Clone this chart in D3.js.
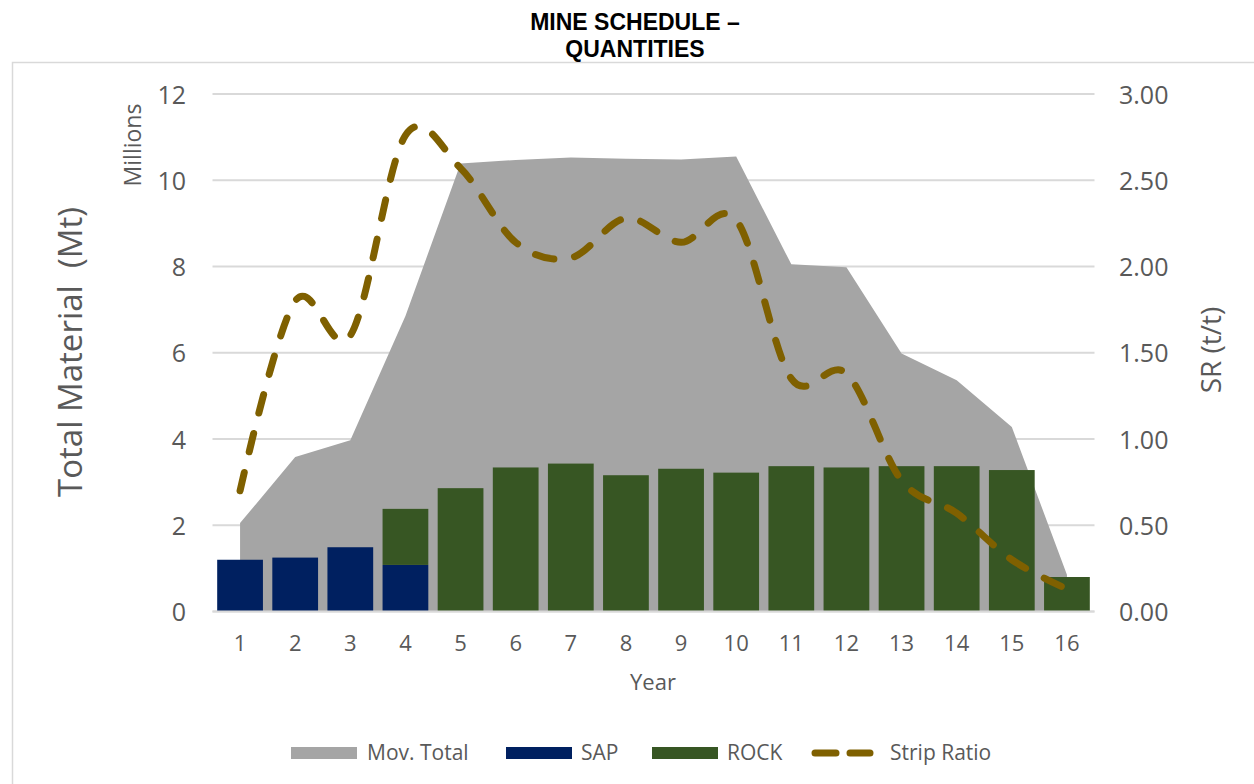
<!DOCTYPE html>
<html>
<head>
<meta charset="utf-8">
<script src="https://cdn.jsdelivr.net/npm/d3@7"></script>
<style>
  html, body { margin: 0; padding: 0; background: #fff; }
  svg { display: block; }
  text { font-family: "Open Sans", "Noto Sans", sans-serif; fill: #595959; }
</style>
</head>
<body>
<svg id="chart" width="1254" height="784"></svg>
<script>
// ---- data ----
const years = ["1","2","3","4","5","6","7","8","9","10","11","12","13","14","15","16"];
const movTotal = [2.05, 3.58, 3.97, 6.85, 10.39, 10.47, 10.53, 10.50, 10.48, 10.55, 8.05, 7.98, 5.98, 5.36, 4.28, 0.85];
const sap = [1.20, 1.25, 1.49, 1.08, 0, 0, 0, 0, 0, 0, 0, 0, 0, 0, 0, 0];
const rock = [0, 0, 0, 1.30, 2.86, 3.34, 3.43, 3.16, 3.31, 3.22, 3.37, 3.34, 3.37, 3.37, 3.28, 0.80];
const stripRatio = [0.70, 1.80, 1.60, 2.76, 2.57, 2.14, 2.05, 2.28, 2.14, 2.27, 1.35, 1.38, 0.76, 0.57, 0.30, 0.13];
const leftTicks = [0, 2, 4, 6, 8, 10, 12];
const rightTicks = [0, 0.5, 1.0, 1.5, 2.0, 2.5, 3.0];
const titleLines = ["MINE SCHEDULE –", "QUANTITIES"];
const legendItems = ["Mov. Total", "SAP", "ROCK", "Strip Ratio"];

const colors = { total: "#a5a5a5", sap: "#002060", rock: "#375623", sr: "#7f6000", grid: "#d9d9d9" };

const svg = d3.select("#chart");
svg.append("rect").attr("width", 1254).attr("height", 784).attr("fill", "#fff");

// chart frame
svg.append("path")
  .attr("d", "M12.5,784 L12.5,62.5 L1254,62.5")
  .attr("fill", "none").attr("stroke", "#d9d9d9").attr("stroke-width", 1.5);

// title
svg.append("g").selectAll("text").data(titleLines).join("text")
  .attr("x", 635).attr("y", (d, i) => 29.5 + i * 27)
  .attr("text-anchor", "middle")
  .style("font-family", "'Liberation Sans', Arial, sans-serif")
  .style("font-weight", "bold").style("font-size", "23px").style("fill", "#000")
  .text(d => d);

// scales
const x = d3.scaleBand().domain(years).range([212.5, 1094.5]).paddingInner(0).paddingOuter(0);
const y = d3.scaleLinear().domain([0, 12]).range([611.5, 94]);
const y2 = d3.scaleLinear().domain([0, 3]).range([611.5, 94]);
const barPad = 0.085;
const cx = d => x(d) + x.bandwidth() / 2;

// gridlines
svg.append("g").selectAll("line").data(leftTicks).join("line")
  .attr("x1", 212.5).attr("x2", 1094.5)
  .attr("y1", d => y(d)).attr("y2", d => y(d))
  .attr("stroke", colors.grid).attr("stroke-width", 1.8);

// area (Mov. Total)
const area = d3.area()
  .x((d, i) => cx(years[i]))
  .y0(y(0)).y1(d => y(d))
  .curve(d3.curveLinear);
svg.append("path").datum(movTotal).attr("d", area).attr("fill", colors.total);

// stacked bars: SAP then ROCK
const bars = svg.append("g");
bars.selectAll("rect.sap").data(years).join("rect").attr("class", "sap")
  .attr("x", d => x(d) + x.bandwidth() * barPad)
  .attr("width", x.bandwidth() * (1 - 2 * barPad))
  .attr("y", (d, i) => y(sap[i]))
  .attr("height", (d, i) => y(0) - y(sap[i]))
  .attr("fill", colors.sap);
bars.selectAll("rect.rock").data(years).join("rect").attr("class", "rock")
  .attr("x", d => x(d) + x.bandwidth() * barPad)
  .attr("width", x.bandwidth() * (1 - 2 * barPad))
  .attr("y", (d, i) => y(sap[i] + rock[i]))
  .attr("height", (d, i) => y(sap[i]) - y(sap[i] + rock[i]))
  .attr("fill", colors.rock);

// zero axis line
svg.append("line").attr("x1", 212.5).attr("x2", 1094.5)
  .attr("y1", y(0)).attr("y2", y(0))
  .attr("stroke", colors.grid).attr("stroke-width", 1.8);

// strip ratio line
const line = d3.line()
  .x((d, i) => cx(years[i]))
  .y(d => y2(d))
  .curve(d3.curveCardinal.tension(0));
svg.append("path").datum(stripRatio).attr("d", line)
  .attr("fill", "none").attr("stroke", colors.sr).attr("stroke-width", 7)
  .attr("stroke-linecap", "round").attr("stroke-dasharray", "19 21");

// left axis
const leftAxis = svg.append("g").attr("transform", "translate(186,0)")
  .call(d3.axisLeft(y).tickValues(leftTicks).tickSize(0).tickPadding(0).tickFormat(d3.format("d")));
leftAxis.select(".domain").remove();
leftAxis.selectAll("text").style("font-size", "25px").attr("dy", "0.36em").style("fill", "#595959")
  .style("font-family", "'Open Sans', sans-serif");

// right axis
const rightAxis = svg.append("g").attr("transform", "translate(1119,0)")
  .call(d3.axisRight(y2).tickValues(rightTicks).tickSize(0).tickPadding(0).tickFormat(d3.format(".2f")));
rightAxis.select(".domain").remove();
rightAxis.selectAll("text").style("font-size", "25px").attr("dy", "0.36em").style("fill", "#595959")
  .style("font-family", "'Open Sans', sans-serif");

// bottom axis
const bottomAxis = svg.append("g").attr("transform", "translate(0,635)")
  .call(d3.axisBottom(x).tickSize(0).tickPadding(0));
bottomAxis.select(".domain").remove();
bottomAxis.selectAll("text").style("font-size", "22px").attr("dy", "0.73em").style("fill", "#595959")
  .style("font-family", "'Open Sans', sans-serif");

// axis titles
svg.append("text").attr("x", 653).attr("y", 690).attr("text-anchor", "middle")
  .style("font-size", "22px").text("Year");
svg.append("text").attr("transform", "translate(82,352) rotate(-90)").attr("text-anchor", "middle")
  .style("font-size", "33px").style("white-space", "pre").text("Total Material  (Mt)");
svg.append("text").attr("transform", "translate(141,145) rotate(-90)").attr("text-anchor", "middle")
  .style("font-size", "23px").text("Millions");
svg.append("text").attr("transform", "translate(1221,350) rotate(-90)").attr("text-anchor", "middle")
  .style("font-size", "28px").text("SR (t/t)");

// legend
const legend = svg.append("g");
const swatchX = [291, 506, 652];
const swatchFill = [colors.total, colors.sap, colors.rock];
legend.selectAll("rect").data(swatchX).join("rect")
  .attr("x", d => d).attr("y", 747).attr("width", 66).attr("height", 12)
  .attr("fill", (d, i) => swatchFill[i]);
legend.append("line").attr("x1", 815).attr("x2", 870).attr("y1", 753).attr("y2", 753)
  .attr("stroke", colors.sr).attr("stroke-width", 7).attr("stroke-linecap", "round")
  .attr("stroke-dasharray", "21 14");
const legendTextX = [367, 581, 727, 890];
legend.selectAll("text").data(legendItems).join("text")
  .attr("x", (d, i) => legendTextX[i]).attr("y", 760)
  .style("font-size", "21px").text(d => d);
</script>
</body>
</html>
